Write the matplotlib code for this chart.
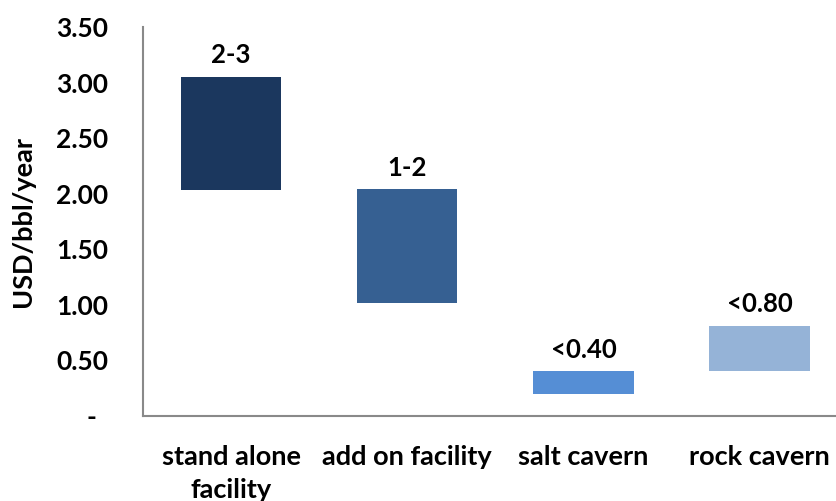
import matplotlib.pyplot as plt
import matplotlib.transforms as mtransforms
from matplotlib.ticker import FuncFormatter

# storage cost ranges by facility type
categories = ["stand alone\nfacility", "add on facility", "salt cavern", "rock cavern"]
low = [2.03, 1.02, 0.20, 0.40]
high = [3.05, 2.04, 0.40, 0.81]
labels = ["2-3", "1-2", "<0.40", "<0.80"]
colors = ["#1B375E", "#366092", "#558ED5", "#95B3D7"]

plt.rcParams['font.family'] = ['Lato', 'DejaVu Sans']
plt.rcParams['font.weight'] = 'bold'

fig = plt.figure(figsize=(8.36, 5.01), dpi=100)
ax = fig.add_axes([0.171, 0.170, 0.843, 0.776])

x = range(len(categories))
heights = [h - l for l, h in zip(low, high)]
bars = ax.bar(x, heights, bottom=low, width=0.57, color=colors)

for b, txt in zip(bars, labels):
    ax.annotate(txt, (b.get_x() + b.get_width() / 2, b.get_y() + b.get_height()),
                xytext=(0, 7), textcoords='offset points',
                ha='center', va='bottom', fontsize=18.5, fontweight='bold')

ax.set_xlim(-0.5, 3.5)
ax.set_ylim(0, 3.5)
ax.set_yticks([0, 0.5, 1.0, 1.5, 2.0, 2.5, 3.0, 3.5])
ax.yaxis.set_major_formatter(FuncFormatter(lambda v, p: "-" if v == 0 else f"{v:.2f}"))
ax.set_xticks(list(x))
ax.set_xticklabels(categories, linespacing=1.45)

ax.tick_params(axis='y', length=0, labelsize=19, pad=25)
ax.tick_params(axis='x', length=0, labelsize=19.5, pad=21)
for t in ax.get_xticklabels() + ax.get_yticklabels():
    t.set_fontweight('bold')

# the zero label sits a bit further left
fig.canvas.draw()
zero = ax.get_yticklabels()[0]
zero.set_transform(zero.get_transform() + mtransforms.ScaledTranslation(-12 / 100, 0, fig.dpi_scale_trans))

ax.set_ylabel("USD/bbl/year", fontsize=19.5, fontweight='bold')
ax.yaxis.set_label_coords(-0.153, 0.5)

for s in ['top', 'right']:
    ax.spines[s].set_visible(False)
for s in ['left', 'bottom']:
    ax.spines[s].set_color('#898989')
    ax.spines[s].set_linewidth(1.5)

fig.savefig("out.png", dpi=100)
